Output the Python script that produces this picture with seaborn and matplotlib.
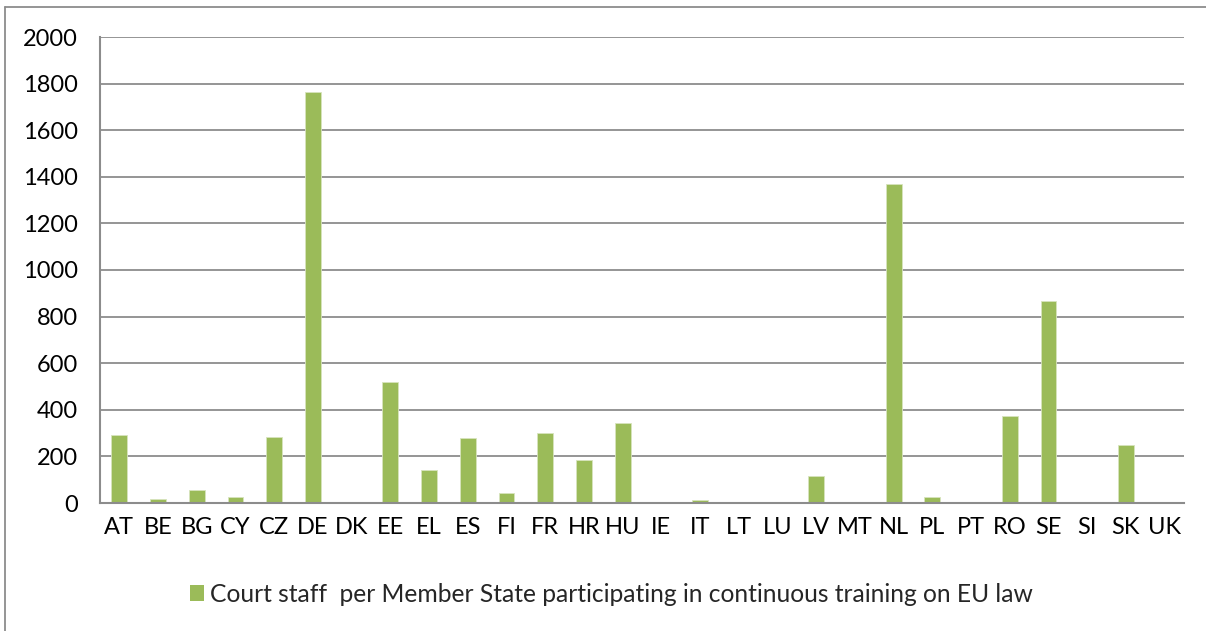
import matplotlib
matplotlib.use("Agg")
import matplotlib.pyplot as plt
import seaborn as sns
import pandas as pd
import numpy as np
from matplotlib.patches import Patch
from matplotlib.lines import Line2D

countries = ["AT", "BE", "BG", "CY", "CZ", "DE", "DK", "EE", "EL", "ES", "FI", "FR", "HR", "HU",
             "IE", "IT", "LT", "LU", "LV", "MT", "NL", "PL", "PT", "RO", "SE", "SI", "SK", "UK"]
values = [293, 18, 56, 26, 283, 1766, 0, 520, 140, 280, 41, 302, 185, 342,
          0, 14, 0, 0, 118, 0, 1370, 27, 0, 372, 868, 0, 251, 0]
yticks = [0, 200, 400, 600, 800, 1000, 1200, 1400, 1600, 1800, 2000]
legend_label = "Court staff  per Member State participating in continuous training on EU law"

sns.set_style("white")
plt.rcParams["font.family"] = ["Lato", "DejaVu Sans"]

df = pd.DataFrame({"country": countries, "value": values})

fig = plt.figure(figsize=(12.06, 6.31), dpi=100)
ax = fig.add_axes([100 / 1206, 1 - 503 / 631, (1184 - 100) / 1206, (503 - 37) / 631])

sns.barplot(data=df, x="country", y="value", color="#9BBB59", saturation=1,
            width=0.41, ax=ax, zorder=3, edgecolor="#D7E4BD", linewidth=0.6)

ax.set_ylim(0, 2000)
ax.set_xlim(-0.5, len(countries) - 0.5)
ax.set_yticks(yticks)
ax.set_yticklabels([str(t) for t in yticks])
for t in yticks[1:]:
    ax.axhline(t, color="#8C8C8C", lw=1.3, zorder=1)
ax.set_xlabel("")
ax.set_ylabel("")

for s in ["top", "right"]:
    ax.spines[s].set_visible(False)
for s in ["left", "bottom"]:
    ax.spines[s].set_color("#8C8C8C")
    ax.spines[s].set_linewidth(1.5)
ax.spines["bottom"].set_zorder(4)

ax.set_xticks(np.arange(len(countries)))
ax.set_xticks(np.arange(-0.5, len(countries), 1.0), minor=True)
ax.tick_params(axis="x", which="major", length=0, pad=10, labelsize=17, labelcolor="black")
ax.tick_params(axis="x", which="minor", length=7, width=1.5, color="#8C8C8C", direction="out")
ax.tick_params(axis="y", which="major", length=8, width=1.5, color="#8C8C8C", pad=8,
               labelsize=17, labelcolor="black")

handle = Patch(facecolor="#9BBB59", edgecolor="none")
fig.legend([handle], [legend_label], loc="center", bbox_to_anchor=(0.507, 1 - 594 / 631),
           frameon=False, fontsize=17.7, handlelength=0.6, handleheight=0.6, handletextpad=0.25)

# chart-area border: only top and left edges visible within the image
fig.lines.append(Line2D([5 / 1206, 5 / 1206], [0, 1 - 7 / 631], transform=fig.transFigure,
                        color="#8C8C8C", lw=1.3))
fig.lines.append(Line2D([5 / 1206, 1], [1 - 7 / 631, 1 - 7 / 631], transform=fig.transFigure,
                        color="#8C8C8C", lw=1.3))

fig.savefig("out.png", dpi=100)
